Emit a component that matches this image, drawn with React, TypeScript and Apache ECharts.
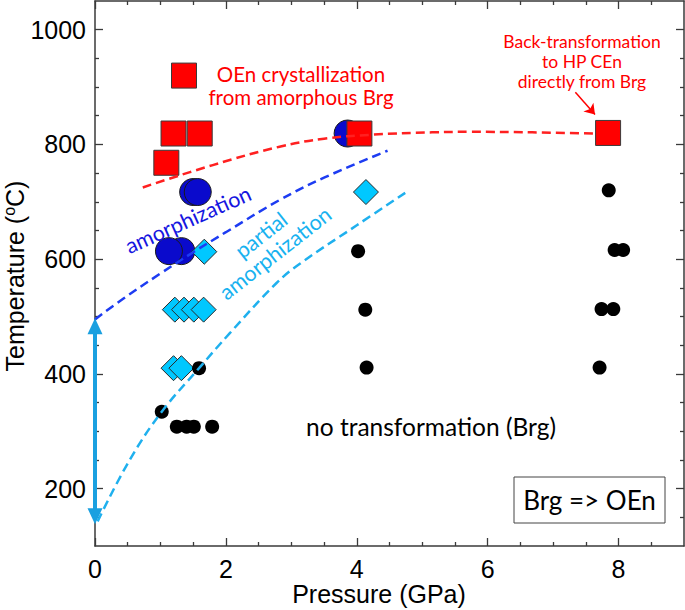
import { useEffect, useRef } from 'react';
import * as echarts from 'echarts';

// Pressure (GPa), Temperature (°C)
const redSquares = [[1.36, 920], [1.2, 819], [1.6, 819], [1.09, 768], [4.04, 819], [7.84, 820]];
const blueCircles = [[1.5, 717], [1.57, 717], [1.32, 614], [1.13, 614], [3.86, 819]];
const cyanDiamonds = [[1.67, 613], [1.22, 512], [1.36, 512], [1.51, 512], [1.66, 512], [1.2, 410], [1.32, 410], [4.14, 717]];
const blackDots = [
  [1.59, 410], [1.02, 334], [1.25, 308], [1.4, 308], [1.51, 308], [1.79, 308],
  [4.02, 614], [4.13, 512], [4.15, 411],
  [7.85, 720], [7.94, 616], [8.07, 616], [7.74, 513], [7.92, 513], [7.71, 411],
];
const redCurve = [[0.73, 725], [1.8, 764], [2.82, 796], [3.5, 810], [4.24, 817], [5.15, 821], [5.72, 822], [6.68, 821], [7.64, 819]];
const blueCurve = [[0, 495], [0.43, 531], [1.0, 575], [1.5, 612], [2.0, 647], [2.82, 703], [3.5, 742], [4.47, 789]];
const cyanCurve = [[0.04, 143], [0.53, 250], [1.02, 334], [1.59, 410], [2.06, 471], [2.77, 558], [3.13, 592], [4.0, 659], [4.76, 717]];
const rangeArrow = [[0, 152], [0, 483]];
const noteArrow = [[7.34, 891], [7.64, 852]];

const xMajor = [0, 2, 4, 6, 8];
const xMinor = [0.5, 1, 1.5, 2.5, 3, 3.5, 4.5, 5, 5.5, 6.5, 7, 7.5, 8.5];
const yMajor = [200, 400, 600, 800, 1000];
const yMinor = [150, 250, 300, 350, 450, 500, 550, 650, 700, 750, 850, 900, 950];

const AX = '#3a3a3a';
const TICKFONT = 'Liberation Sans';
const fmt = (v: number) => String(v);

function xAx(position: string, ticks: number[], len: number, labels: boolean, line: boolean) {
  return {
    type: 'value', position, min: 0, max: 9,
    axisLine: { show: line, onZero: false, lineStyle: { color: AX, width: 1.5 } },
    axisTick: { show: true, inside: true, length: len, customValues: ticks, lineStyle: { color: AX, width: 1.3 } },
    axisLabel: labels
      ? { show: true, customValues: xMajor, formatter: fmt, fontSize: 25, color: '#000', fontFamily: TICKFONT, margin: 10 }
      : { show: false },
    splitLine: { show: false },
  };
}

function yAx(position: string, ticks: number[], len: number, labels: boolean, line: boolean) {
  return {
    type: 'value', position, min: 100, max: 1050,
    axisLine: { show: line, onZero: false, lineStyle: { color: AX, width: 1.5 } },
    axisTick: { show: true, inside: true, length: len, customValues: ticks, lineStyle: { color: AX, width: 1.3 } },
    axisLabel: labels
      ? { show: true, customValues: yMajor, formatter: fmt, fontSize: 25, color: '#000', fontFamily: TICKFONT, margin: 9 }
      : { show: false },
    splitLine: { show: false },
  };
}

export default function App() {
  const ref = useRef<HTMLDivElement>(null);
  useEffect(() => {
    if (!ref.current) return;
    const chart = echarts.init(ref.current, null, { renderer: 'svg' });
    chart.setOption({
      animation: false,
      backgroundColor: '#fff',
      grid: { left: 95, right: 1, top: 1, bottom: 64, containLabel: false, outerBoundsMode: 'none' },
      xAxis: [
        xAx('bottom', xMajor, 8, true, true),
        xAx('bottom', xMinor, 4, false, false),
        xAx('top', xMajor, 8, false, true),
        xAx('top', xMinor, 4, false, false),
      ],
      yAxis: [
        yAx('left', yMajor, 8, true, true),
        yAx('left', yMinor, 4, false, false),
        yAx('right', yMajor, 8, false, true),
        yAx('right', yMinor, 4, false, false),
      ],
      series: [
        {
          type: 'scatter', data: blueCircles, symbol: 'circle', symbolSize: 27,
          itemStyle: { color: '#0a0acc', borderColor: '#1a1a1a', borderWidth: 1, opacity: 1 },
        },
        {
          type: 'scatter', data: cyanDiamonds, symbol: 'diamond', symbolSize: 25,
          itemStyle: { color: '#00c8ff', borderColor: '#2a2a2a', borderWidth: 1, opacity: 1 },
        },
        {
          type: 'scatter', data: blackDots, symbol: 'circle', symbolSize: 14,
          itemStyle: { color: '#000', opacity: 1 },
        },
        {
          type: 'line', data: cyanCurve, smooth: 0.4, showSymbol: false, symbol: 'none',
          lineStyle: { color: '#1fb0ee', width: 2.5, type: [9, 5] },
          markLine: {
            silent: true, symbol: ['triangle', 'triangle'], symbolSize: [15, 16],
            label: { show: false },
            lineStyle: { color: '#1aa0e0', width: 4, type: 'solid' },
            data: [[{ coord: rangeArrow[0] }, { coord: rangeArrow[1] }]],
          },
        },
        {
          type: 'line', data: blueCurve, smooth: 0.4, showSymbol: false, symbol: 'none',
          lineStyle: { color: '#1d3cf2', width: 2.5, type: [9, 5] },
        },
        {
          type: 'line', data: redCurve, smooth: 0.4, showSymbol: false, symbol: 'none',
          lineStyle: { color: '#ff2020', width: 2.5, type: [9, 5] },
          markLine: {
            silent: true, symbol: ['none', 'arrow'], symbolSize: 10,
            label: { show: false },
            lineStyle: { color: '#ff0000', width: 1.5, type: 'solid' },
            data: [[{ coord: noteArrow[0] }, { coord: noteArrow[1] }]],
          },
        },
        {
          type: 'scatter', data: redSquares, symbol: 'rect', symbolSize: 25,
          itemStyle: { color: '#ff0000', borderColor: '#3a3a3a', borderWidth: 1, opacity: 1 },
        },
      ],
      graphic: [
        {
          type: 'text', x: 15, y: 276, rotation: Math.PI / 2, z: 100,
          style: {
            text: 'Temperature ({s|o}C)', fill: '#000', font: '25px "Liberation Sans"',
            textAlign: 'center', textVerticalAlign: 'middle', lineHeight: 28,
            rich: { s: { fontSize: 16, fontFamily: 'Liberation Sans', fill: '#000', verticalAlign: 'top', lineHeight: 28 } },
          },
        },
        {
          type: 'text', x: 379, y: 594, z: 100,
          style: { text: 'Pressure (GPa)', fill: '#000', font: '25px "Liberation Sans"', textAlign: 'center', textVerticalAlign: 'middle' },
        },
        {
          type: 'text', x: 301, y: 85, z: 100,
          style: { text: 'OEn crystallization\nfrom amorphous Brg', fill: '#ff0000', font: '20.5px Lato', textAlign: 'center', textVerticalAlign: 'middle', lineHeight: 23 },
        },
        {
          type: 'text', x: 582, y: 61.5, z: 100,
          style: { text: 'Back-transformation\nto HP CEn\ndirectly from Brg', fill: '#ff0000', font: '17.5px Lato', textAlign: 'center', textVerticalAlign: 'middle', lineHeight: 20 },
        },
        {
          type: 'text', x: 188, y: 219.5, rotation: (24 * Math.PI) / 180, z: 100,
          style: { text: 'amorphization', fill: '#1616e0', font: '21.5px Lato', textAlign: 'center', textVerticalAlign: 'middle' },
        },
        {
          type: 'text', x: 268, y: 244, rotation: (38 * Math.PI) / 180, z: 100,
          style: { text: 'partial\namorphization', fill: '#18b2f0', font: '21.5px Lato', textAlign: 'center', textVerticalAlign: 'middle', lineHeight: 23 },
        },
        {
          type: 'text', x: 431, y: 426, z: 100,
          style: { text: 'no transformation (Brg)', fill: '#000', font: '24.5px Lato', textAlign: 'center', textVerticalAlign: 'middle' },
        },
        {
          type: 'rect', z: 100,
          shape: { x: 514, y: 477, width: 151, height: 46 },
          style: { fill: '#fff', stroke: '#444', lineWidth: 1 },
        },
        {
          type: 'text', x: 589.5, y: 500, z: 101,
          style: { text: 'Brg => OEn', fill: '#000', font: '26px Lato', textAlign: 'center', textVerticalAlign: 'middle' },
        },
      ],
    });
    return () => chart.dispose();
  }, []);
  return <div ref={ref} style={{ position: 'fixed', left: 0, top: 0, width: 685, height: 610 }} />;
}
